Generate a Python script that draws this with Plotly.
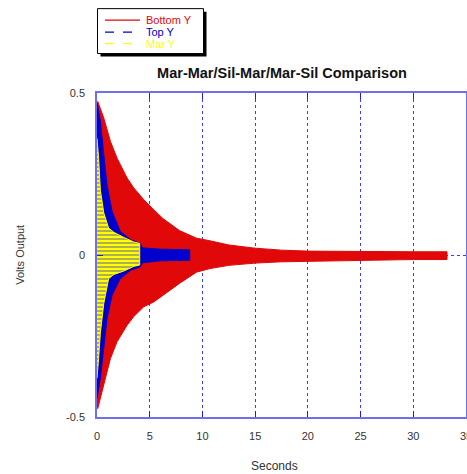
import plotly.graph_objects as go

# ---- data (envelopes) ----
red_t = [0, 0.07, 0.64, 1.27, 1.9, 2.85, 3.49, 4.43, 5.38, 6.27, 7.85, 9.44, 10.7, 12.5, 15, 17.5, 20, 22.5, 25, 27.5, 30, 33.2]
red_upper = [0.47, 0.474, 0.423, 0.351, 0.299, 0.238, 0.207, 0.171, 0.14, 0.112, 0.075, 0.052, 0.044, 0.031, 0.021, 0.015, 0.012, 0.011, 0.010, 0.010, 0.010, 0.010]
red_lower = [-0.47, -0.474, -0.402, -0.32, -0.268, -0.217, -0.19, -0.16, -0.145, -0.125, -0.087, -0.053, -0.042, -0.032, -0.025, -0.021, -0.019, -0.017, -0.016, -0.015, -0.014, -0.014]

blue_t = [0, 0.32, 0.64, 0.95, 1.43, 2.2, 3.2, 4.1, 4.3, 6.0, 8.8]
blue_upper = [0.469, 0.413, 0.31, 0.217, 0.135, 0.073, 0.047, 0.036, 0.022, 0.018, 0.016]
blue_lower = [-0.443, -0.38, -0.279, -0.197, -0.124, -0.073, -0.047, -0.037, -0.024, -0.018, -0.016]

yellow_t = [0, 0.15, 0.32, 0.64, 1.1, 1.6, 2.5, 3.5, 4.05]
yellow_upper = [0.36, 0.3, 0.2, 0.13, 0.083, 0.07, 0.055, 0.04, 0.036]
yellow_lower = [-0.38, -0.32, -0.24, -0.15, -0.073, -0.06, -0.05, -0.035, -0.031]

series_names = ["Bottom Y", "Top Y", "Mar Y"]
x_ticks = [0, 5, 10, 15, 20, 25, 30, 35]
y_ticks = [-0.5, 0, 0.5]

RED = "#e00808"
BLUE = "#0000cc"
YELLOW = "#ffff00"
FRAME = "#6e6ef0"
GRID = "#3c3cf0"
FONT = "Liberation Sans, Arial, sans-serif"

W, H = 467, 474
# plot area in pixels
L, R, T, B = 97, 466, 93, 417.5


def px(x):
    return (x - L) / (R - L)


def py(y):
    return (B - y) / (B - T)


def band(t, up, lo):
    return list(t) + list(t)[::-1], list(up) + list(lo)[::-1]


fig = go.Figure()

xs, ys = band(red_t, red_upper, red_lower)
fig.add_trace(go.Scatter(x=xs, y=ys, mode="lines", fill="toself", fillcolor=RED, name=series_names[0],
                         line=dict(color=RED, width=1), showlegend=False, hoverinfo="skip"))
xs, ys = band(blue_t, blue_upper, blue_lower)
fig.add_trace(go.Scatter(x=xs, y=ys, mode="lines", fill="toself", fillcolor=BLUE, name=series_names[1],
                         line=dict(color=BLUE, width=1), showlegend=False, hoverinfo="skip"))
xs, ys = band(yellow_t, yellow_upper, yellow_lower)
fig.add_trace(go.Scatter(x=xs, y=ys, mode="lines", fill="toself", name=series_names[2],
                         fillpattern=dict(shape="-", fgcolor="#8c8c6e", bgcolor=YELLOW,
                                          size=4, solidity=0.35, fillmode="replace"),
                         line=dict(color=YELLOW, width=1), showlegend=False, hoverinfo="skip"))

axis_common = dict(showline=True, linecolor=FRAME, linewidth=1.5,
                   showgrid=True, gridcolor=GRID, griddash="dot", gridwidth=1,
                   zeroline=False, ticks="inside", tickcolor="#1e1ee6", ticklen=6,
                   tickfont=dict(family=FONT, size=11, color="#333333"),
                   ticklabelstandoff=8, ticklabeloverflow="allow", automargin=False)

fig.update_xaxes(range=[0, 35], tickvals=x_ticks, mirror="ticks", **axis_common)
fig.update_yaxes(range=[-0.5, 0.5], tickvals=y_ticks, ticktext=["-0.5", "0", "0.5"], mirror=True,
                 **axis_common)

fig.update_layout(
    width=W, height=H,
    margin=dict(l=L, r=W - R, t=T, b=H - B, autoexpand=False),
    paper_bgcolor="white", plot_bgcolor="white",
    title=dict(text="<b>Mar-Mar/Sil-Mar/Mar-Sil Comparison</b>",
               font=dict(family=FONT, size=14.5, color="#111111"),
               x=282 / W, xanchor="center", y=1 - 72.5 / H, yanchor="middle"),
    showlegend=False,
)

# axis titles
fig.add_annotation(text="Seconds", xref="paper", yref="paper", x=px(274), y=py(467),
                   showarrow=False, xanchor="center", yanchor="middle",
                   font=dict(family=FONT, size=12, color="#333333"))
fig.add_annotation(text="Volts Output", xref="paper", yref="paper", x=px(20), y=py(255),
                   showarrow=False, xanchor="center", yanchor="middle", textangle=-90,
                   font=dict(family=FONT, size=11, color="#333333"))

# legend (box with drop shadow)
box = (97.5, 203.5, 8.5, 53.5)
fig.add_shape(type="rect", xref="paper", yref="paper",
              x0=px(box[0] + 3), x1=px(box[1] + 3), y0=py(box[3] + 3), y1=py(box[2] + 3),
              fillcolor="black", line=dict(width=0))
fig.add_shape(type="rect", xref="paper", yref="paper",
              x0=px(box[0]), x1=px(box[1]), y0=py(box[3]), y1=py(box[2]),
              fillcolor="white", line=dict(color="black", width=1))
rows = [20, 32, 43.5]
for name, col, dash, ry in zip(series_names, [RED, BLUE, YELLOW], ["solid", "dash", "dash"], rows):
    fig.add_shape(type="line", xref="paper", yref="paper",
                  x0=px(105), x1=px(140), y0=py(ry), y1=py(ry),
                  line=dict(color=col, width=1.2, dash=dash))
    fig.add_annotation(text=name, xref="paper", yref="paper", x=px(144), y=py(ry),
                       showarrow=False, xanchor="left", yanchor="middle",
                       font=dict(family=FONT, size=11, color=col))

fig.write_html(
    "out.html",
    config={"displayModeBar": False},
    post_script="document.body.style.margin='0px';document.documentElement.style.overflow='hidden';",
)
